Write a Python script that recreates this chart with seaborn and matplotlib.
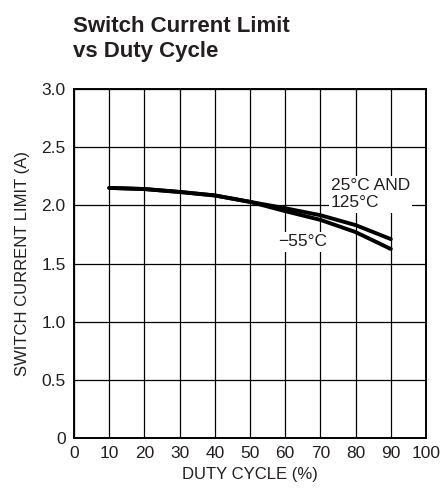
import numpy as np
import matplotlib
matplotlib.use("Agg")
import matplotlib.pyplot as plt
import seaborn as sns
import pandas as pd

# values
duty = [10, 20, 30, 40, 50, 60, 70, 80, 90]
i_25_125 = [2.15, 2.14, 2.115, 2.085, 2.03, 1.975, 1.915, 1.83, 1.71]
i_m55 = [2.15, 2.14, 2.115, 2.085, 2.03, 1.95, 1.875, 1.77, 1.625]
x_ticks = list(range(0, 101, 10))
y_ticks = [0, 0.5, 1.0, 1.5, 2.0, 2.5, 3.0]
y_ticklabels = ["0", "0.5", "1.0", "1.5", "2.0", "2.5", "3.0"]

sns.set_style("white")
plt.rcParams['font.family'] = ['Liberation Sans', 'DejaVu Sans']

df = pd.DataFrame({
    "duty": duty * 2,
    "current": i_25_125 + i_m55,
    "temp": ["25/125"] * len(duty) + ["-55"] * len(duty),
})

fig = plt.figure(figsize=(4.42, 4.94), dpi=100)
ax = fig.add_axes([74 / 442, 56 / 494, 352 / 442, 349 / 494])

sns.lineplot(data=df, x="duty", y="current", hue="temp", palette=["black", "black"],
             linewidth=2.8, legend=False, ax=ax, zorder=3)

ax.set_xlim(0, 100)
ax.set_ylim(0, 3.0)
ax.set_xticks(x_ticks)
ax.set_yticks(y_ticks)
ax.set_yticklabels(y_ticklabels)
ax.grid(True, color="black", linewidth=0.9)
for s in ax.spines.values():
    s.set_color("black")
    s.set_linewidth(1.4)
ax.tick_params(axis="both", labelsize=12.5, length=0, pad=6, colors="#231f20")
ax.set_xlabel("DUTY CYCLE (%)", fontsize=12, color="#231f20", labelpad=4)
ax.set_ylabel("SWITCH CURRENT LIMIT (A)", fontsize=12, color="#231f20", labelpad=8)

ax.text(73.0, 2.095, "25°C AND\n125°C", fontsize=12.5, ha="left", va="center",
        linespacing=1.2, color="#231f20",
        bbox=dict(facecolor="white", edgecolor="none", pad=1.5), zorder=4)
ax.text(58.0, 1.685, "\u221255°C", fontsize=12.5, ha="left", va="center", color="#231f20",
        bbox=dict(facecolor="white", edgecolor="none", pad=1.5), zorder=4)

fig.text(73 / 442, 1 - 39 / 494, "Switch Current Limit\nvs Duty Cycle", fontsize=16,
         fontweight="bold", ha="left", va="center", linespacing=1.25, color="#231f20")

fig.savefig("out.png", dpi=100)
